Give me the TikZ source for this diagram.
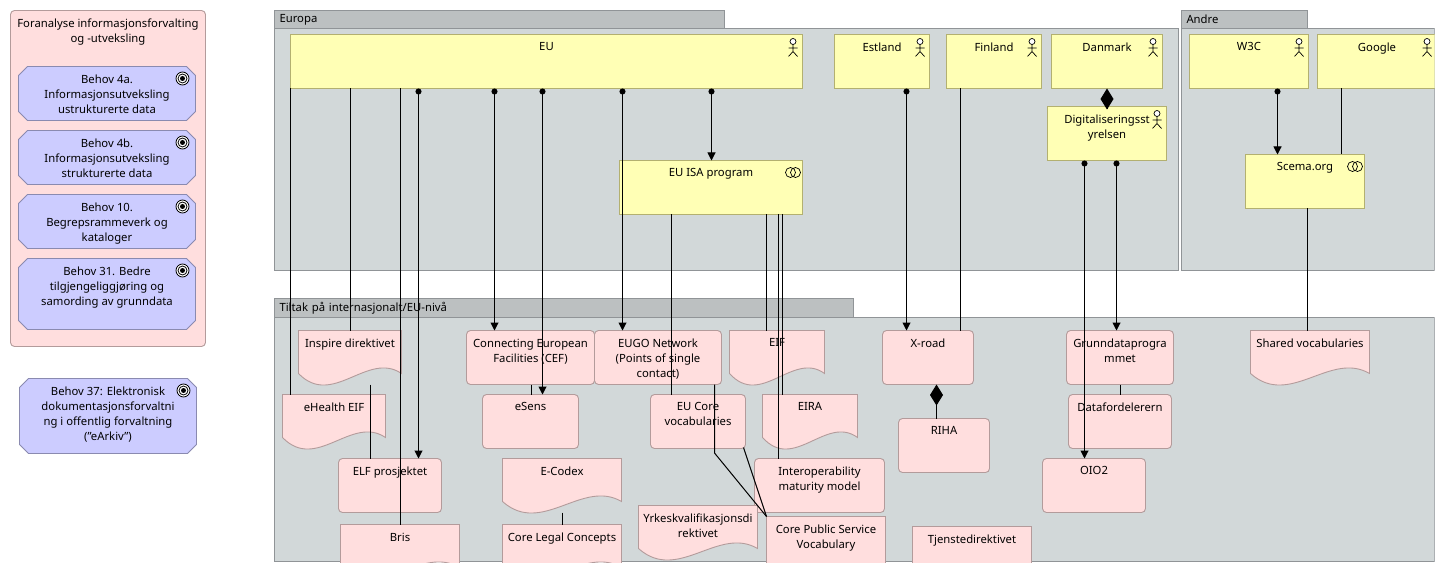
\documentclass[tikz,border=0pt]{standalone}
\usepackage{fontspec}
\setmainfont{Noto Sans}
\usetikzlibrary{arrows.meta}

\definecolor{groupfill}{HTML}{D2D8D9}
\definecolor{tabfill}{HTML}{BCC0C1}
\definecolor{groupline}{HTML}{909497}
\definecolor{yellowfill}{HTML}{FFFFB5}
\definecolor{yellowline}{HTML}{B3B070}
\definecolor{pinkfill}{HTML}{FFDEDE}
\definecolor{pinkline}{HTML}{B39B9B}
\definecolor{goalfill}{HTML}{CCCCFF}
\definecolor{goalline}{HTML}{8A8AB0}

\makeatletter
\newcommand\rectanchors{
  \inheritsavedanchors[from=rectangle]
  \inheritanchorborder[from=rectangle]
  \inheritanchor[from=rectangle]{center}
  \inheritanchor[from=rectangle]{north}
  \inheritanchor[from=rectangle]{south}
  \inheritanchor[from=rectangle]{east}
  \inheritanchor[from=rectangle]{west}
  \inheritanchor[from=rectangle]{north west}
  \inheritanchor[from=rectangle]{north east}
  \inheritanchor[from=rectangle]{south west}
  \inheritanchor[from=rectangle]{south east}
}
\newcommand\rectcorners{
  \southwest \edef\xl{\the\pgf@x}\edef\yb{\the\pgf@y}
  \northeast \edef\xr{\the\pgf@x}\edef\yt{\the\pgf@y}
}
\pgfdeclareshape{docshape}{
  \rectanchors
  \backgroundpath{
    \rectcorners
    \edef\xw{\the\dimexpr\xr-\xl\relax}
    \pgfpathmoveto{\pgfqpoint{\xl}{\yt}}
    \pgfpathlineto{\pgfqpoint{\xr}{\yt}}
    \pgfpathlineto{\pgfqpoint{\xr}{\dimexpr\yb+11pt\relax}}
    \pgfpathcurveto
      {\pgfqpoint{\dimexpr\xl+\xw*67/100\relax}{\dimexpr\yb+34pt\relax}}
      {\pgfqpoint{\dimexpr\xl+\xw*33/100\relax}{\dimexpr\yb-24pt\relax}}
      {\pgfqpoint{\xl}{\dimexpr\yb+11pt\relax}}
    \pgfpathclose
  }
}
\pgfdeclareshape{goalshape}{
  \rectanchors
  \backgroundpath{
    \rectcorners
    \pgfpathmoveto{\pgfqpoint{\dimexpr\xl+9pt\relax}{\yt}}
    \pgfpathlineto{\pgfqpoint{\dimexpr\xr-9pt\relax}{\yt}}
    \pgfpathlineto{\pgfqpoint{\xr}{\dimexpr\yt-9pt\relax}}
    \pgfpathlineto{\pgfqpoint{\xr}{\dimexpr\yb+9pt\relax}}
    \pgfpathlineto{\pgfqpoint{\dimexpr\xr-9pt\relax}{\yb}}
    \pgfpathlineto{\pgfqpoint{\dimexpr\xl+9pt\relax}{\yb}}
    \pgfpathlineto{\pgfqpoint{\xl}{\dimexpr\yb+9pt\relax}}
    \pgfpathlineto{\pgfqpoint{\xl}{\dimexpr\yt-9pt\relax}}
    \pgfpathclose
  }
}
\makeatother

\tikzset{
  txt/.style={label={[txtstyle]north:#1}},
  txtstyle/.style={anchor=north,align=center,inner sep=0pt,yshift=-8pt,font=\fontsize{11.3}{15}\selectfont},
  box/.style={anchor=north west,inner sep=0pt,outer sep=0pt,line width=.9pt,minimum height=54},
  actorbox/.style={box,rectangle,draw=yellowline,fill=yellowfill},
  pinkbox/.style={box,rectangle,rounded corners=4pt,draw=pinkline,fill=pinkfill},
  docbox/.style={box,shape=docshape,draw=pinkline,fill=pinkfill},
  goalbox/.style={box,shape=goalshape,draw=goalline,fill=goalfill},
  groupbox/.style={box,rectangle,draw=groupline,fill=groupfill},
  tabbox/.style={box,rectangle,draw=groupline,fill=tabfill,minimum height=18,inner xsep=5pt,align=left,font=\fontsize{11.3}{15}\selectfont},
  link/.style={line width=1pt,black},
  dotarrow/.style={link,{Circle[length=6pt]}-{Triangle[length=8pt,width=8pt]}},
  compose/.style={link,-{Diamond[length=21pt,width=13pt]}},
  actor/.pic={
    \draw[line width=.7pt,fill=white] (0,0) circle (3);
    \draw[line width=.7pt] (0,3) -- (0,10) (-4.5,6.5) -- (4.5,6.5) (-4.5,15) -- (0,10) -- (4.5,15);
  },
  samarbeid/.pic={
    \draw[line width=.7pt] (-2.5,0) circle (5);
    \draw[line width=.7pt] (2.5,0) circle (5);
  },
  maal/.pic={
    \draw[line width=.8pt,fill=white] (0,0) circle (6.5);
    \draw[line width=.8pt] (0,0) circle (4.5);
    \fill (0,0) circle (2.5);
  }
}

\begin{document}
\begin{tikzpicture}[x=1pt,y=-1pt]
  \useasboundingbox (0,0) rectangle (1445,572);
  \clip (0,0) rectangle (1434.5,562);

  \node[pinkbox,minimum width=195,minimum height=336,txt={Foranalyse informasjonsforvalting\\og -utveksling}] (foranalyse) at (10.5,10.5) {};
  \node[goalbox,minimum width=177,txt={Behov 4a.\\Informasjonsutveksling\\ustrukturerte data}] (b4a) at (18.5,66.5) {};
  \node[goalbox,minimum width=177,txt={Behov 4b.\\Informasjonsutveksling\\strukturerte data}] (b4b) at (18.5,130.5) {};
  \node[goalbox,minimum width=177,txt={Behov 10.\\Begrepsrammeverk og\\kataloger}] (b10) at (18.5,194.5) {};
  \node[goalbox,minimum width=177,minimum height=71,txt={Behov 31. Bedre\\tilgjengeliggjøring og\\samording av grunndata}] (b31) at (18.5,258.5) {};
  \node[goalbox,minimum width=177,minimum height=75,txt={Behov 37: Elektronisk\\dokumentasjonsforvaltni\\ng i offentlig forvaltning\\("eArkiv")}] (b37) at (19.5,378.5) {};

  \node[groupbox,minimum width=904,minimum height=241.5] (europa) at (274.5,28.5) {};
  \node[tabbox,text width=440] (europatab) at (274.5,10.5) {Europa};
  \node[groupbox,minimum width=253,minimum height=241.5] (andre) at (1181.5,28.5) {};
  \node[tabbox,text width=116] (andretab) at (1181.5,10.5) {Andre};
  \node[groupbox,minimum width=1160,minimum height=244] (tiltak) at (274.5,317.5) {};
  \node[tabbox,minimum height=19,text width=569] (tiltaktab) at (274.5,298.5) {Tiltak på internasjonalt/EU-nivå};

  \node[actorbox,minimum width=512,txt={EU}] (eu) at (290.5,34.5) {};
  \node[actorbox,minimum width=95,txt={Estland}] (estland) at (834.5,34.5) {};
  \node[actorbox,minimum width=95,txt={Finland}] (finland) at (946.5,34.5) {};
  \node[actorbox,minimum width=111,txt={Danmark}] (danmark) at (1051.5,34.5) {};
  \node[actorbox,minimum width=119,txt={Digitaliseringsst\\yrelsen}] (digst) at (1047.5,106.5) {};
  \node[actorbox,minimum width=119,txt={W3C}] (w3c) at (1189.5,34.5) {};
  \node[actorbox,minimum width=119,txt={Google}] (google) at (1317.5,34.5) {};
  \node[actorbox,minimum width=183,txt={EU ISA program}] (isa) at (619.5,160.5) {};
  \node[actorbox,minimum width=119,txt={Scema.org}] (scema) at (1245.5,154.5) {};

  \node[docbox,minimum width=103,txt={Inspire direktivet}] (inspire) at (298.5,330.5) {};
  \node[docbox,minimum width=103,txt={eHealth EIF}] (ehealth) at (282.5,394.5) {};
  \node[pinkbox,minimum width=128,txt={Connecting European\\Facilities (CEF)}] (cef) at (466.5,330.5) {};
  \node[pinkbox,minimum width=127,txt={EUGO Network\\(Points of single\\contact)}] (eugo) at (594.5,330.5) {};
  \node[pinkbox,minimum width=96,txt={eSens}] (esens) at (482.5,394.5) {};
  \node[pinkbox,minimum width=103,txt={ELF prosjektet}] (elf) at (338.5,458.5) {};
  \node[docbox,minimum width=119,txt={E-Codex}] (ecodex) at (502.5,458.5) {};
  \node[docbox,minimum width=119,txt={Bris}] (bris) at (340.5,524.5) {};
  \node[docbox,minimum width=119,txt={Core Legal Concepts}] (legal) at (502.5,524.5) {};
  \node[docbox,minimum width=95,txt={EIF}] (eif) at (729.5,330.5) {};
  \node[pinkbox,minimum width=95,txt={EU Core\\vocabularies}] (eucore) at (650.5,394.5) {};
  \node[docbox,minimum width=95,txt={EIRA}] (eira) at (762.5,394.5) {};
  \node[pinkbox,minimum width=130,txt={Interoperability\\maturity model}] (imm) at (754.5,458.5) {};
  \node[docbox,minimum width=119,txt={Yrkeskvalifikasjonsdi\\rektivet}] (yrke) at (638.5,505.5) {};
  \node[docbox,minimum width=119,minimum height=70,txt={Core Public Service\\Vocabulary}] (cpsv) at (766.5,516.5) {};
  \node[docbox,minimum width=119,minimum height=70,txt={Tjenstedirektivet}] (tjeneste) at (912.5,526.5) {};
  \node[pinkbox,minimum width=91,txt={X-road}] (xroad) at (882.5,330.5) {};
  \node[pinkbox,minimum width=91,txt={RIHA}] (riha) at (898.5,418.5) {};
  \node[pinkbox,minimum width=107,txt={Grunndataprogra\\mmet}] (grunn) at (1066.5,330.5) {};
  \node[pinkbox,minimum width=103,txt={Datafordelerern}] (datafor) at (1068.5,394.5) {};
  \node[pinkbox,minimum width=103,txt={OIO2}] (oio) at (1042.5,458.5) {};
  \node[docbox,minimum width=119,txt={Shared vocabularies}] (shared) at (1250.5,330.5) {};

  \foreach \n in {eu,estland,finland,danmark,digst,w3c,google}
    \pic at ([xshift=-9.5pt,yshift=-7pt]\n.north east) {actor};
  \foreach \n in {isa,scema}
    \pic at ([xshift=-9.5pt,yshift=-12pt]\n.north east) {samarbeid};
  \foreach \n in {b4a,b4b,b10,b31,b37}
    \pic at ([xshift=-13pt,yshift=-12pt]\n.north east) {maal};

  \draw[link] (290.5,0 |- eu.south) -- (290.5,0 |- ehealth.north);
  \draw[link] (350.5,0 |- eu.south) -- (350.5,0 |- inspire.north);
  \draw[link] (400.5,0 |- eu.south) -- (400.5,0 |- bris.north);
  \draw[dotarrow] (418.5,0 |- eu.south) -- (418.5,0 |- elf.north);
  \draw[dotarrow] (494.5,0 |- eu.south) -- (494.5,0 |- cef.north);
  \draw[dotarrow] (542.5,0 |- eu.south) -- (542.5,0 |- esens.north);
  \draw[dotarrow] (622.5,0 |- eu.south) -- (622.5,0 |- eugo.north);
  \draw[dotarrow] (711.5,0 |- eu.south) -- (711.5,0 |- isa.north);

  \draw[link] (671.5,0 |- isa.south) -- (671.5,0 |- eucore.north);
  \draw[link] (766.5,0 |- isa.south) -- (766.5,0 |- eif.north);
  \draw[link] (778.5,0 |- isa.south) -- (778.5,0 |- imm.north);
  \draw[link] (782.5,0 |- isa.south) -- (782.5,0 |- eira.north);

  \draw[dotarrow] (906.5,0 |- estland.south) -- (906.5,0 |- xroad.north);
  \draw[link] (960.5,0 |- finland.south) -- (960.5,0 |- xroad.north);
  \draw[compose] (digst.north) -- (danmark.south);
  \draw[dotarrow] (1084.5,0 |- digst.south) -- (1084.5,0 |- oio.north);
  \draw[dotarrow] (1116.5,0 |- digst.south) -- (1116.5,0 |- grunn.north);

  \draw[dotarrow] (1277.5,0 |- w3c.south) -- (1277.5,0 |- scema.north);
  \draw[link] (1341.5,0 |- google.south) -- (1341.5,0 |- scema.north);
  \draw[link] (1307.5,0 |- scema.south) -- (1307.5,0 |- shared.north);

  \draw[compose] (936.5,0 |- riha.north) -- (936.5,0 |- xroad.south);
  \draw[link] (370.5,0 |- inspire.south) -- (370.5,0 |- elf.north);
  \draw[link] (531.5,0 |- cef.south) -- (531.5,0 |- esens.north);
  \draw[link] (562.5,0 |- ecodex.south) -- (562.5,0 |- legal.north);
  \draw[link] (1120.5,0 |- grunn.south) -- (1120.5,0 |- datafor.north);
  \draw[link] (714.5,0 |- eugo.south) -- (714.5,453) -- (cpsv.north west);
  \draw[link] ([xshift=-2pt,yshift=1pt]eucore.south east) -- (cpsv.north west);
\end{tikzpicture}
\end{document}
